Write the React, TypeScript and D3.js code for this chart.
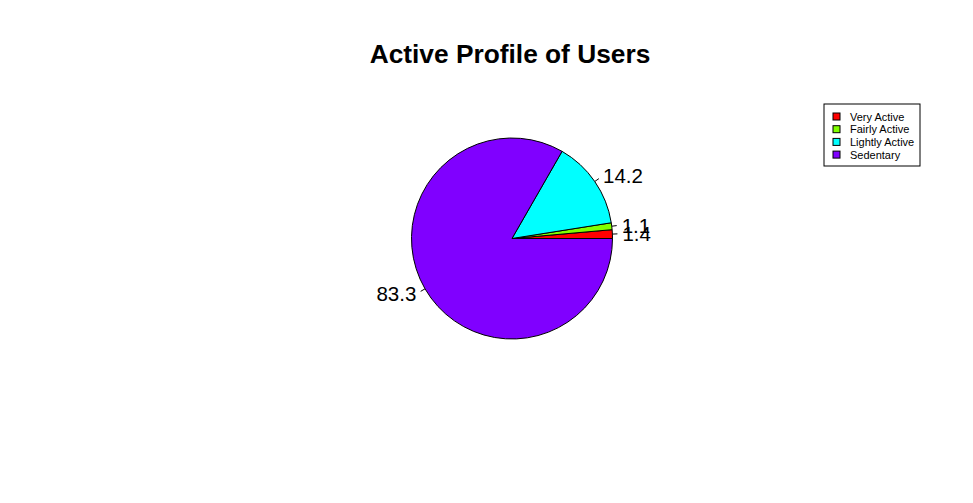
import React from "react";
import * as d3 from "d3";

const categories = ["Very Active", "Fairly Active", "Lightly Active", "Sedentary"];
const shares = [1.4, 1.1, 14.2, 83.3];
const sliceColors = ["#FF0000", "#80FF00", "#00FFFF", "#8000FF"];

const App = () => {
  const width = 973;
  const height = 503;
  const cx = 512;
  const cy = 238.5;
  const radius = 100.5;

  // R's pie(): counterclockwise, starting at 3 o'clock
  const total = d3.sum(shares);
  const toAngle = d3.scaleLinear().domain([0, total]).range([0, 2 * Math.PI]);
  const cum = d3.cumsum(shares);
  const slices = shares.map((v, i) => {
    const a0 = toAngle(cum[i] - v);
    const a1 = toAngle(cum[i]);
    return { v, i, a0, a1, mid: (a0 + a1) / 2 };
  });

  const arc = d3.arc<any>().innerRadius(0).outerRadius(radius);

  return (
    <svg
      width={width}
      height={height}
      style={{ position: "absolute", left: 0, top: 0, background: "#fff" }}
      fontFamily="'Liberation Sans', Arial, sans-serif"
    >
      <text x={510} y={63} textAnchor="middle" fontSize={26.3} fontWeight="bold">
        Active Profile of Users
      </text>

      <g transform={`translate(${cx},${cy})`}>
        {slices.map((s) => (
          <path
            key={s.i}
            d={arc({ startAngle: Math.PI / 2 - s.a1, endAngle: Math.PI / 2 - s.a0 }) || ""}
            fill={sliceColors[s.i]}
            stroke="#000"
            strokeWidth={1}
          />
        ))}
        {slices.map((s) => {
          const c = Math.cos(s.mid);
          const sn = -Math.sin(s.mid);
          return (
            <g key={"l" + s.i}>
              <line
                x1={radius * c}
                y1={radius * sn}
                x2={radius * 1.05 * c}
                y2={radius * 1.05 * sn}
                stroke="#000"
                strokeWidth={1}
              />
              <text
                x={radius * 1.1 * c}
                y={radius * 1.1 * sn}
                textAnchor={c > 0 ? "start" : "end"}
                dominantBaseline="central"
                fontSize={20.5}
              >
                {s.v}
              </text>
            </g>
          );
        })}
      </g>

      <g transform="translate(824,104)">
        <rect x={0} y={0} width={96} height={62} fill="#fff" stroke="#000" strokeWidth={1} />
        {categories.map((c, i) => (
          <g key={c} transform={`translate(0,${12.5 + i * 12.7})`}>
            <rect x={9} y={-3.5} width={7} height={7} fill={sliceColors[i]} stroke="#000" strokeWidth={1} />
            <text x={26} y={0} dominantBaseline="central" fontSize={11}>
              {c}
            </text>
          </g>
        ))}
      </g>
    </svg>
  );
};

export default App;
